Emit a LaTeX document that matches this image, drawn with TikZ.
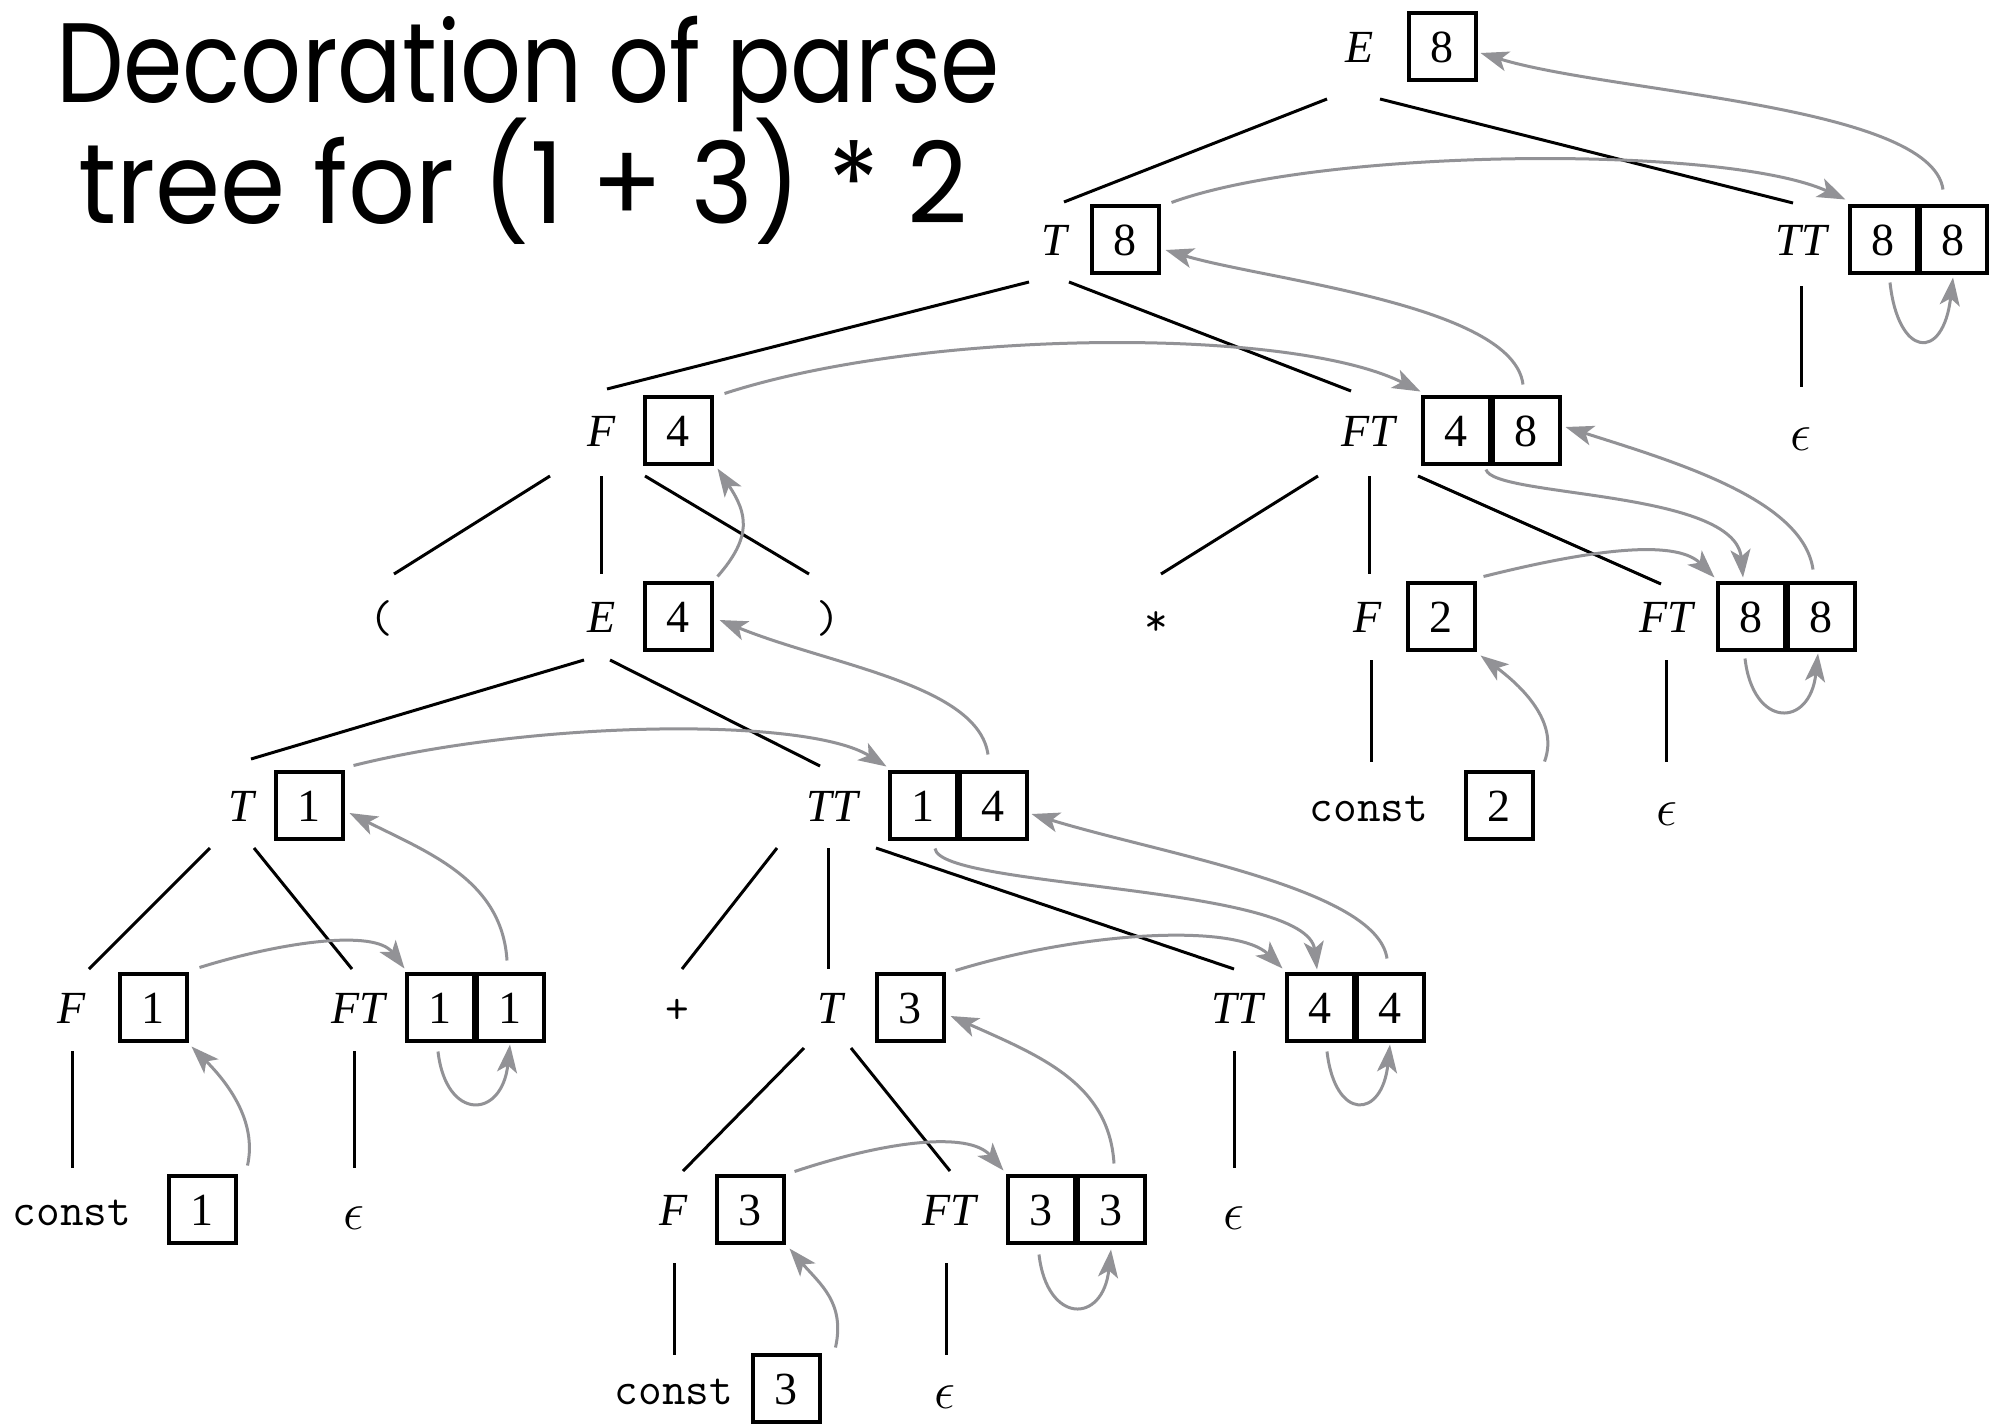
\documentclass[tikz,border=0pt]{standalone}
\usepackage{fontspec}
\setmainfont{Liberation Serif}
\newfontfamily\titlefont{Poppins}
\usetikzlibrary{arrows.meta,calc}
\definecolor{arrowgray}{RGB}{146,146,150}
\newcommand\garc[4]{%
  \path #1 coordinate (gS) #3 coordinate (gE);
  \draw[garrow] (gS) .. controls ($(gS)+(#2)$) and ($(gE)+(#4)$) .. (gE);}
\newcommand\tln[6]{\draw[treeline] ($(#1)+(#2,#3)$) -- ($(#4)+(#5,#6)$);}
\newcommand\epsglyph{{\fontsize{20.74}{24}\selectfont\scalebox{2.55}{$\epsilon$}}}
\begin{document}
\begin{tikzpicture}[x=1pt,y=-1pt,
  lbl/.style={inner sep=0pt, font=\fontsize{46}{50}\selectfont\itshape, text height=32pt, text depth=0pt},
  ttl/.style={inner sep=0pt, font=\fontsize{46}{50}\selectfont\ttfamily, text height=32pt, text depth=0pt},
  epsl/.style={inner sep=0pt, text height=32pt, text depth=0pt},
  vbox/.style={draw, line width=4pt, minimum width=67pt, minimum height=67pt, inner sep=0pt,
    font=\fontsize{46}{50}\selectfont, text height=32pt, text depth=0pt},
  treeline/.style={line width=3pt, black},
  garrow/.style={line width=3pt, draw=arrowgray, -{Stealth[length=28pt,width=20pt,inset=7pt,fill=arrowgray]}},
  titletext/.style={inner sep=0pt, anchor=base west, font=\titlefont\fontsize{113}{120}\selectfont}
]
\useasboundingbox (0,0) rectangle (1991,1424);
\fill[white] (0,0) rectangle (1991,1424);

% title
\node[titletext] (title1) at (56,102) {\resizebox{944pt}{\height}{Decoration of parse}};
\node[titletext] (title2) at (78,223) {\resizebox{890pt}{\height}{tree for (1 + 3) * 2}};

% row 0
\node[lbl] (E0l) at (1360,46) {E};
\node[vbox] (bE0) at (1442,46) {8};
% row 1
\node[lbl] (T1l) at (1054,239) {T};
\node[vbox] (bT1) at (1125,239) {8};
\node[lbl] (TT1l) at (1801,239) {TT};
\node[vbox] (bTT1a) at (1883,239) {8};
\node[vbox] (bTT1b) at (1953,239) {8};
% row 2
\node[lbl] (F2l) at (602,430) {F};
\node[vbox] (bF2) at (678,430) {4};
\node[lbl] (FT2l) at (1368,430) {FT};
\node[vbox] (bFT2a) at (1456,430) {4};
\node[vbox] (bFT2b) at (1526,430) {8};
\node[epsl] (eps2) at (1801,434) {\epsglyph};
% row 3
\node[ttl] (lp3) at (381,616) {(};
\node[lbl] (E3l) at (602,616) {E};
\node[vbox] (bE3) at (678,616) {4};
\node[ttl] (rp3) at (828,616) {)};
\node[ttl] (st3) at (1156,619) {*};
\node[lbl] (F3l) at (1368,616) {F};
\node[vbox] (bF3) at (1441,616) {2};
\node[lbl] (FT3l) at (1666,616) {FT};
\node[vbox] (bFT3a) at (1751,616) {8};
\node[vbox] (bFT3b) at (1821,616) {8};
% row 4
\node[lbl] (T4l) at (241,805) {T};
\node[vbox] (bT4) at (309,805) {1};
\node[lbl] (TT4l) at (832,805) {TT};
\node[vbox] (bTT4a) at (923,805) {1};
\node[vbox] (bTT4b) at (993,805) {4};
\node[ttl] (c4) at (1369,805) {const};
\node[vbox] (bC4) at (1499,805) {2};
\node[epsl] (eps4) at (1667,809) {\epsglyph};
% row 5
\node[lbl] (F5l) at (72,1007) {F};
\node[vbox] (bF5) at (153,1007) {1};
\node[lbl] (FT5l) at (358,1007) {FT};
\node[vbox] (bFT5a) at (440,1007) {1};
\node[vbox] (bFT5b) at (510,1007) {1};
\node[ttl] (pl5) at (677,1007) {+};
\node[lbl] (T5l) at (830,1007) {T};
\node[vbox] (bT5) at (910,1007) {3};
\node[lbl] (TT5l) at (1237,1007) {TT};
\node[vbox] (bTT5a) at (1320,1007) {4};
\node[vbox] (bTT5b) at (1390,1007) {4};
% row 6
\node[ttl] (c6) at (72,1209) {const};
\node[vbox] (bC6) at (202,1209) {1};
\node[epsl] (eps6a) at (354,1213) {\epsglyph};
\node[lbl] (F6l) at (674,1209) {F};
\node[vbox] (bF6) at (750,1209) {3};
\node[lbl] (FT6l) at (949,1209) {FT};
\node[vbox] (bFT6a) at (1041,1209) {3};
\node[vbox] (bFT6b) at (1111,1209) {3};
\node[epsl] (eps6b) at (1234,1213) {\epsglyph};
% row 7
\node[ttl] (c7) at (674,1388) {const};
\node[vbox] (bC7) at (786,1388) {3};
\node[epsl] (eps7) at (945,1392) {\epsglyph};

% tree lines
\tln{E0l}{-33}{53}{T1l}{10}{-37}
\tln{E0l}{20}{53}{TT1l}{-8}{-36}
\tln{T1l}{-25}{43}{F2l}{5}{-41}
\tln{T1l}{15}{43}{FT2l}{-17}{-39}
\tln{TT1l}{0}{47}{eps2}{0}{-47}
\tln{F2l}{-52}{46}{lp3}{13}{-42}
\tln{F2l}{-1}{46}{E3l}{-1}{-42}
\tln{F2l}{43}{46}{rp3}{-19}{-42}
\tln{FT2l}{-50}{46}{st3}{5}{-45}
\tln{FT2l}{1}{46}{F3l}{1}{-42}
\tln{FT2l}{50}{46}{FT3l}{-5}{-32}
\tln{E3l}{-18}{44}{T4l}{10}{-46}
\tln{E3l}{8}{44}{TT4l}{-12}{-39}
\tln{F3l}{3}{44}{c4}{2}{-43}
\tln{FT3l}{0}{44}{eps4}{-1}{-47}
\tln{T4l}{-31}{43}{F5l}{17}{-38}
\tln{T4l}{13}{43}{FT5l}{-6}{-38}
\tln{TT4l}{-55}{43}{pl5}{5}{-38}
\tln{TT4l}{-4}{43}{T5l}{-2}{-38}
\tln{TT4l}{44}{43}{TT5l}{-3}{-38}
\tln{F5l}{0}{44}{c6}{0}{-41}
\tln{FT5l}{-4}{44}{eps6a}{0}{-45}
\tln{T5l}{-26}{41}{F6l}{9}{-38}
\tln{T5l}{21}{41}{FT6l}{1}{-38}
\tln{TT5l}{-3}{44}{eps6b}{0}{-45}
\tln{F6l}{0}{54}{c7}{0}{-33}
\tln{FT6l}{-3}{54}{eps7}{1}{-37}

% gray attribute-flow arrows
\garc{($(bTT1b.north)+(-10,-14)$)}{-12,-85}{($(bE0.east)+(3,7)$)}{130,40}
\garc{($(bT1.north east)+(11,-1)$)}{150,-55}{($(bTT1a.north west)+(-2,-4)$)}{-120,-55}
\garc{($(bFT2b.north)+(-3,-10)$)}{-10,-80}{($(bT1.east)+(5,11)$)}{100,30}
\garc{($(bF2.north east)+(11,-1)$)}{200,-65}{($(bFT2a.north west)+(0,-3)$)}{-130,-65}
\garc{($(bTT1a.south)+(7,8)$)}{8,75}{($(bTT1b.south)+(0,3)$)}{-10,85}
\garc{($(bFT2a.south)+(30,4)$)}{7,28}{($(bFT3a.north)+(-8,-3)$)}{-8,-88}
\garc{($(bFT3b.north)+(-8,-11)$)}{-10,-70}{($(bFT2b.east)+(4,-3)$)}{110,35}
\garc{($(bF3.north east)+(7,-4)$)}{100,-25}{($(bFT3a.north west)+(-1,-3)$)}{-40,-40}
\garc{($(bFT3a.south)+(-6,7)$)}{8,70}{($(bFT3b.south)+(-3,2)$)}{-8,75}
\garc{($(bE3.north east)+(4,-4)$)}{35,-40}{($(bF2.south east)+(4,3)$)}{30,45}
\garc{($(bTT4b.north)+(-5,-15)$)}{-10,-70}{($(bE3.east)+(6,4)$)}{110,45}
\garc{($(bT4.north east)+(9,-4)$)}{180,-45}{($(bTT4a.north west)+(-1,-3)$)}{-80,-50}
\garc{($(bC4.north east)+(10,-8)$)}{15,-40}{($(bF3.south east)+(4,4)$)}{40,30}
\garc{($(bTT4a.south)+(12,8)$)}{5,40}{($(bTT5a.north)+(-3,-2)$)}{-10,-85}
\garc{($(bTT5b.north)+(-3,-13)$)}{-10,-70}{($(bTT4b.east)+(3,9)$)}{130,40}
\garc{($(bFT5b.north)+(-3,-11)$)}{-5,-80}{($(bT4.east)+(5,8)$)}{80,40}
\garc{($(bF5.north east)+(11,-4)$)}{80,-25}{($(bFT5a.north west)+(0,-3)$)}{-30,-40}
\garc{($(bFT5a.south)+(-2,9)$)}{8,70}{($(bFT5b.south)+(0,2)$)}{-8,75}
\garc{($(bC6.north east)+(10,-8)$)}{10,-45}{($(bF5.south east)+(3,4)$)}{35,35}
\garc{($(bT5.north east)+(10,-1)$)}{130,-40}{($(bTT5a.north west)+(-2,-3)$)}{-45,-45}
\garc{($(bTT5a.south)+(7,9)$)}{8,70}{($(bTT5b.south)+(0,2)$)}{-8,75}
\garc{($(bFT6b.north)+(3,-10)$)}{-5,-80}{($(bT5.east)+(5,9)$)}{90,40}
\garc{($(bF6.north east)+(9,-2)$)}{90,-30}{($(bFT6a.north west)+(-2,-3)$)}{-35,-40}
\garc{($(bFT6a.south)+(-2,10)$)}{8,70}{($(bFT6b.south)+(0,5)$)}{-8,75}
\garc{($(bC7.north east)+(14,-5)$)}{10,-45}{($(bF6.south east)+(4,4)$)}{30,35}
\end{tikzpicture}
\end{document}
